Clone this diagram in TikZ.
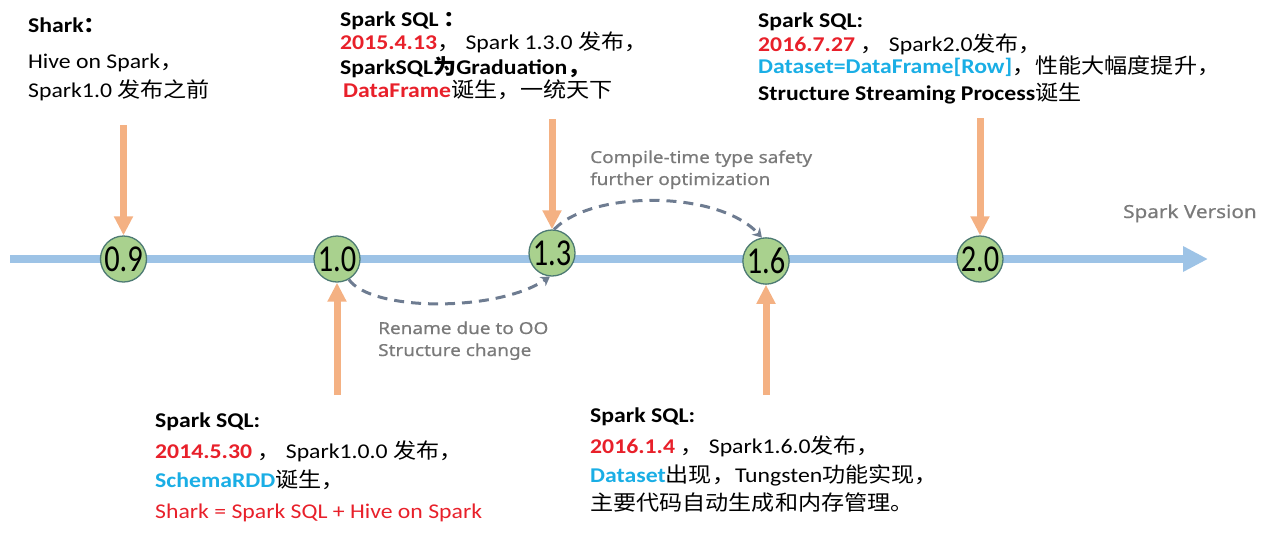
\documentclass[tikz,border=0pt]{standalone}
\usepackage{fontspec}
\usepackage{graphicx}
\usetikzlibrary{arrows.meta}
\setmainfont{Carlito}[FakeStretch=1.13]
\newfontfamily\cjk{Noto Sans CJK SC}[FakeStretch=1.1]
\newfontfamily\numfont{Carlito}[FakeStretch=0.8]
\newfontfamily\lblfont{Noto Sans}[FakeStretch=1.15,FakeBold=0.6]
\definecolor{tred}{HTML}{E8202A}
\definecolor{tcyan}{HTML}{1AAEE5}
\definecolor{tlblue}{HTML}{9DC3E6}
\definecolor{torange}{HTML}{F4B183}
\definecolor{tgreen}{HTML}{A9D18E}
\definecolor{tborder}{HTML}{4D7A73}
\definecolor{tdash}{HTML}{6E7C91}
\definecolor{tgray}{HTML}{7A7A7A}
\newcommand\zh[1]{{\cjk #1}}
\newcommand\rb[1]{{\color{tred}\bfseries #1}}
\newcommand\cb[1]{{\color{tcyan}\bfseries #1}}
\begin{document}
\begin{tikzpicture}[x=1pt,y=-1pt,
  txt/.style={anchor=base west,inner sep=0pt,font=\fontsize{21}{25}\selectfont},
  lbl/.style={anchor=base west,inner sep=0pt,text=tgray,font=\lblfont\fontsize{16.5}{20}\selectfont},
  ver/.style={circle,minimum size=46pt,inner sep=0pt,fill=tgreen,draw=tborder,line width=1.3pt,
    font=\numfont\fontsize{38}{38}\selectfont},
  tline/.style={tlblue,line width=8pt,-{Triangle[width=24pt,length=25pt]}},
  oarr/.style={torange,line width=7pt,-{Triangle[width=18pt,length=19pt]}},
  darr/.style={tdash,line width=3pt,dash pattern=on 10pt off 7pt,-{Stealth[width=11pt,length=9pt]}}]
\useasboundingbox (0,0) rectangle (1264,536);

% timeline
\coordinate (tl0) at (10,259);
\coordinate (tl1) at (1208,259);
\draw[tline] (tl0) -- (tl1);
\node[lbl,font=\lblfont\fontsize{18}{20}\selectfont] (sv) at (1123,218) {Spark Version};

% versions
\node[ver] (v09) at (123.5,259) {\raisebox{-1pt}{0.9}};
\node[ver] (v10) at (337,259) {\raisebox{-1pt}{1.0}};
\node[ver] (v13) at (552,253) {\raisebox{-1pt}{1.3}};
\node[ver] (v16) at (766,261) {\raisebox{-1pt}{1.6}};
\node[ver] (v20) at (980,259) {\raisebox{-1pt}{2.0}};

% orange arrows
\coordinate (a09) at (123.5,125);
\coordinate (a13) at (552,119);
\coordinate (a20) at (980,118);
\coordinate (a10) at (337,395);
\coordinate (a16) at (766,395);
\draw[oarr] (a09) -- (v09.north);
\draw[oarr] (a13) -- (v13.north);
\draw[oarr] (a20) -- (v20.north);
\draw[oarr] (a10) -- (v10.south);
\draw[oarr] (a16) -- (v16.south);

% dashed arcs
\draw[darr] (v10.-60) .. controls (372,312) and (498,312) .. (v13.-95);
\draw[darr] (v13.85) .. controls (592,190) and (718,190) .. (v16.100);
\node[lbl] (c1) at (590,163) {Compile-time type safety};
\node[lbl] (c2) at (590,185) {further optimization};
\node[lbl] (r1) at (378,334) {Rename due to OO};
\node[lbl] (r2) at (378,356) {Structure change};

% top-left
\node[txt] (s1) at (28,32) {\bfseries Shark\zh{：}};
\node[txt] (s2) at (28,68) {Hive on Spark\zh{，}};
\node[txt] (s3) at (28,97) {Spark1.0 \zh{发布之前}};

% top-middle
\node[txt] (m1) at (340,26) {\bfseries Spark SQL \zh{：}};
\node[txt] (m2) at (340,49) {\rb{2015.4.13}\zh{，} Spark 1.3.0 \zh{发布，}};
\node[txt] (m3) at (340,74) {\bfseries SparkSQL\zh{为}Graduation\zh{，}};
\node[txt] (m4) at (343,97) {\rb{DataFrame}\zh{诞生，一统天下}};

% top-right
\node[txt] (n1) at (758,27) {\bfseries Spark SQL:};
\node[txt] (n2) at (758,51) {\rb{2016.7.27} \zh{，} Spark2.0\zh{发布，}};
\node[txt] (n3) at (758,73) {\cb{Dataset=DataFrame[Row]}\zh{，性能大幅度提升，}};
\node[txt] (n4) at (758,100) {\textbf{Structure Streaming Process}\zh{诞生}};

% bottom-left
\node[txt] (b1) at (155,427) {\bfseries Spark SQL:};
\node[txt] (b2) at (155,458) {\rb{2014.5.30} \zh{，} Spark1.0.0 \zh{发布，}};
\node[txt] (b3) at (155,487) {\cb{SchemaRDD}\zh{诞生，}};
\node[txt,text=tred] (b4) at (155,518) {Shark = Spark SQL + Hive on Spark};

% bottom-middle
\node[txt] (d1) at (590,422) {\bfseries Spark SQL:};
\node[txt] (d2) at (590,453) {\rb{2016.1.4} \zh{，} Spark1.6.0\zh{发布，}};
\node[txt] (d3) at (590,482) {\cb{Dataset}\zh{出现，}Tungsten\zh{功能实现，}};
\node[txt] (d4) at (590,510) {\zh{主要代码自动生成和内存管理。}};
\end{tikzpicture}
\end{document}
